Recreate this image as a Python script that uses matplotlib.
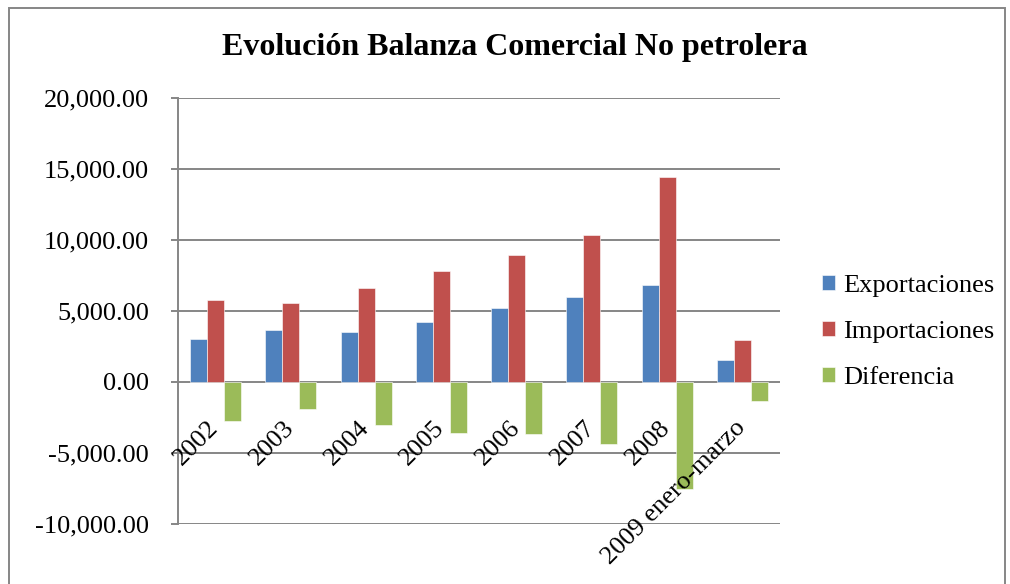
import matplotlib
matplotlib.use("Agg")
import matplotlib.pyplot as plt
import matplotlib.transforms as mtransforms
from matplotlib.patches import Rectangle
from matplotlib.ticker import FuncFormatter, MultipleLocator
import numpy as np

categories = ["2002", "2003", "2004", "2005", "2006", "2007", "2008", "2009 enero-marzo"]
exportaciones = [3007, 3641, 3549, 4239, 5197, 6021, 6831, 1570]
importaciones = [5803, 5542, 6620, 7852, 8958, 10338, 14408, 2958]
diferencia = [-2746, -1873, -3028, -3606, -3697, -4331, -7535, -1366]

series = ["Exportaciones", "Importaciones", "Diferencia"]
colors = ["#4F81BD", "#C0504D", "#9BBB59"]

plt.rcParams['font.family'] = ['Liberation Serif', 'DejaVu Serif']

fig = plt.figure(figsize=(10.1, 5.84), dpi=100)
ax = fig.add_axes([178/1010, 1-524/584, (780-178)/1010, (524-98)/584])

x = np.arange(len(categories))
w = 0.225
for k, vals in enumerate([exportaciones, importaciones, diferencia]):
    ax.bar(x + (k-1)*w, vals, w, color=colors[k], label=series[k],
           edgecolor='white', linewidth=0.4, zorder=3)

ax.set_xlim(-0.5, len(categories)-0.5)
ax.set_ylim(-10000, 20000)
ax.yaxis.set_major_locator(MultipleLocator(5000))
ax.yaxis.set_major_formatter(FuncFormatter(lambda v, p: f"{v:,.2f}"))
ax.grid(axis='y', color='#868686', linewidth=1.4, zorder=1)
ax.set_xticks([])
for s in ['top', 'right', 'bottom']:
    ax.spines[s].set_visible(False)
ax.spines['left'].set_color('#868686')
ax.spines['left'].set_linewidth(1.4)
ax.tick_params(axis='y', length=5, width=1.4, color='#868686', labelsize=19, pad=16)

# category labels sit under the zero line
off = mtransforms.offset_copy(ax.transData, fig=fig, x=-8, y=-35, units='dots')
for i, lab in enumerate(categories):
    ax.text(i, 0, lab, transform=off, rotation=45, rotation_mode='anchor',
            ha='right', va='top', fontsize=19, zorder=4)

ax.legend(loc='center left', bbox_to_anchor=(798/1010, 1-332/584),
          bbox_transform=fig.transFigure, frameon=False, fontsize=19,
          handlelength=0.5, handleheight=0.5, handletextpad=0.3, labelspacing=0.9)

fig.text(515/1010, 1-48/584, "Evolución Balanza Comercial No petrolera",
         ha='center', va='center', fontsize=23, fontweight='bold')

fig.patches.append(Rectangle((9/1010, -0.05), (1005-9)/1010, 1.05-8/584,
                             transform=fig.transFigure, fill=False,
                             edgecolor='#868686', linewidth=1.4))

fig.savefig("out.png", dpi=100)
